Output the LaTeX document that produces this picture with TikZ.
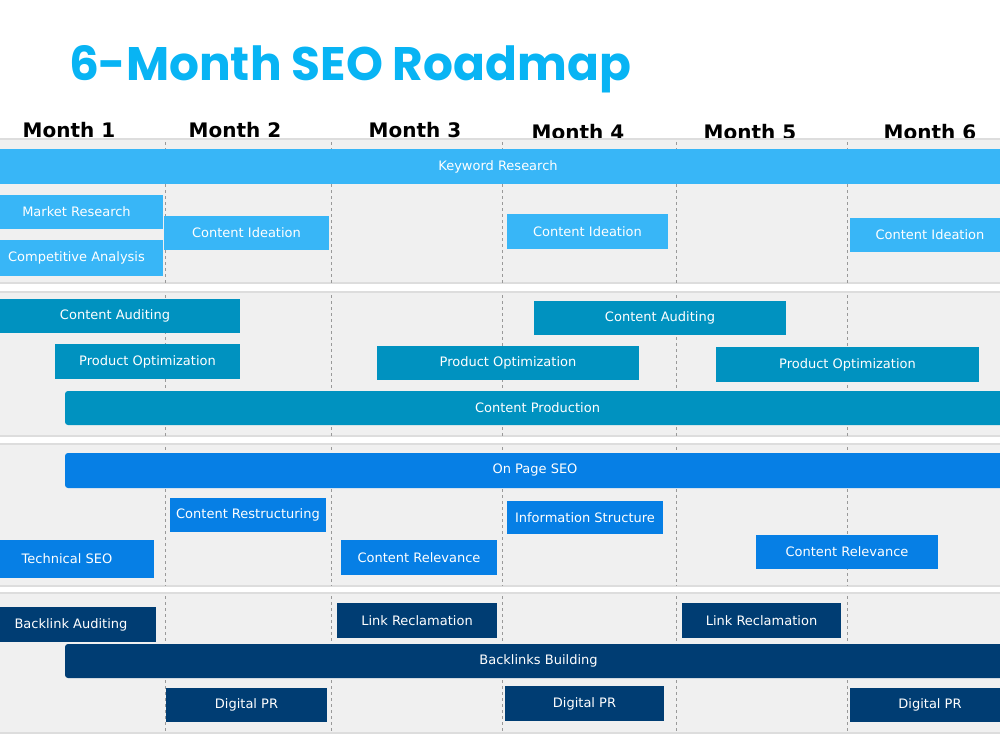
\documentclass[tikz,border=0pt]{standalone}
\usepackage{fontspec}
\setmainfont{DejaVu Sans}
\newfontfamily\titlefont{Poppins}
\usetikzlibrary{positioning}
\definecolor{titleblue}{RGB}{8, 180, 244}
\definecolor{kwblue}{RGB}{56, 182, 247}
\definecolor{ctblue}{RGB}{0, 146, 192}
\definecolor{opblue}{RGB}{6, 127, 229}
\definecolor{lkblue}{RGB}{0, 61, 115}
\definecolor{bandgray}{RGB}{240, 240, 240}
\definecolor{linegray}{RGB}{221, 221, 221}

\begin{document}
\begin{tikzpicture}
		[x=1pt, y=-1pt,
		every node/.style= {inner sep=0pt, outer sep=0pt},
		band/.style= {fill=bandgray, draw=linegray, line width=1.5pt},
		grid line/.style= {draw=black!40, dashed, thin},
		month/.style= {font=\fontsize{20}{24}\selectfont\bfseries, anchor=base},
		task/.style= {text=white, font=\fontsize{13}{15}\selectfont, minimum height=34pt},
		kw task/.style= {task, fill=kwblue},
		ct task/.style= {task, fill=ctblue},
		op task/.style= {task, fill=opblue},
		lk task/.style= {task, fill=lkblue},
		long/.style= {rounded corners=3pt}
		]

		\useasboundingbox (0,0) rectangle (1000,750);

		\node (T) [anchor=base west, text=titleblue, font=\titlefont\bfseries\fontsize{47}{51}\selectfont] at (69,80) {6-Month SEO Roadmap};

		% month columns
		\node [month] (M1) at (69,137) {Month 1};
		\node [month] (M2) at (235,137) {Month 2};
		\node [month] (M3) at (415,137) {Month 3};
		\node [month] (M4) at (578,139) {Month 4};
		\node [month] (M5) at (750,139) {Month 5};
		\node [month] (M6) at (930,139) {Month 6};

		\draw [band] (-2,139) rectangle (1002,283);
		\draw [band] (-2,292) rectangle (1002,436);
		\draw [band] (-2,444) rectangle (1002,586);
		\draw [band] (-2,593) rectangle (1002,733);
		\foreach \x in {165,331,502,676,847}
			\foreach \t/\b in {142/283, 295/436, 447/586, 596/733}
				\draw [grid line] (\x,\t) -- (\x,\b);

		% research
		\node [kw task, minimum width=1008pt, minimum height=35pt] (KR) at (498,166.5) {Keyword Research};
		\node [kw task, minimum width=173pt] (MR) at (76.5,212) {Market Research};
		\node [kw task, minimum width=173pt, minimum height=36pt] (CA) at (76.5,258) {Competitive Analysis};
		\node [kw task, minimum width=165pt] (CI1) at (246.5,233) {Content Ideation};
		\node [kw task, minimum width=161pt, minimum height=35pt] (CI2) at (587.5,231.5) {Content Ideation};
		\node [kw task, minimum width=160pt] (CI3) at (930,235) {Content Ideation};

		% content
		\node [ct task, minimum width=250pt] (CAu1) at (115,316) {Content Auditing};
		\node [ct task, minimum width=252pt] (CAu2) at (660,318) {Content Auditing};
		\node [ct task, minimum width=185pt, minimum height=35pt] (PO1) at (147.5,361.5) {Product Optimization};
		\node [ct task, minimum width=262pt] (PO2) at (508,363) {Product Optimization};
		\node [ct task, minimum width=263pt, minimum height=35pt] (PO3) at (847.5,364.5) {Product Optimization};
		\node [ct task, long, minimum width=945pt] (CP) at (537.5,408) {Content Production};

		% on page
		\node [op task, long, minimum width=940pt, minimum height=35pt] (OPS) at (535,470.5) {On Page SEO};
		\node [op task, minimum width=156pt] (CR) at (248,515) {Content Restructuring};
		\node [op task, minimum width=156pt, minimum height=33pt] (IS) at (585,517.5) {Information Structure};
		\node [op task, minimum width=174pt, minimum height=38pt] (TS) at (67,559) {Technical SEO};
		\node [op task, minimum width=156pt, minimum height=35pt] (CRel1) at (419,557.5) {Content Relevance};
		\node [op task, minimum width=182pt] (CRel2) at (847,552) {Content Relevance};

		% links
		\node [lk task, minimum width=170pt, minimum height=35pt] (BA) at (71,624.5) {Backlink Auditing};
		\node [lk task, minimum width=160pt, minimum height=35pt] (LR1) at (417,620.5) {Link Reclamation};
		\node [lk task, minimum width=159pt, minimum height=35pt] (LR2) at (761.5,620.5) {Link Reclamation};
		\node [lk task, long, minimum width=947pt] (BB) at (538.5,661) {Backlinks Building};
		\node [lk task, minimum width=161pt] (DPR1) at (246.5,705) {Digital PR};
		\node [lk task, minimum width=159pt, minimum height=35pt] (DPR2) at (584.5,703.5) {Digital PR};
		\node [lk task, minimum width=160pt] (DPR3) at (930,705) {Digital PR};

	\end{tikzpicture}
\end{document}
